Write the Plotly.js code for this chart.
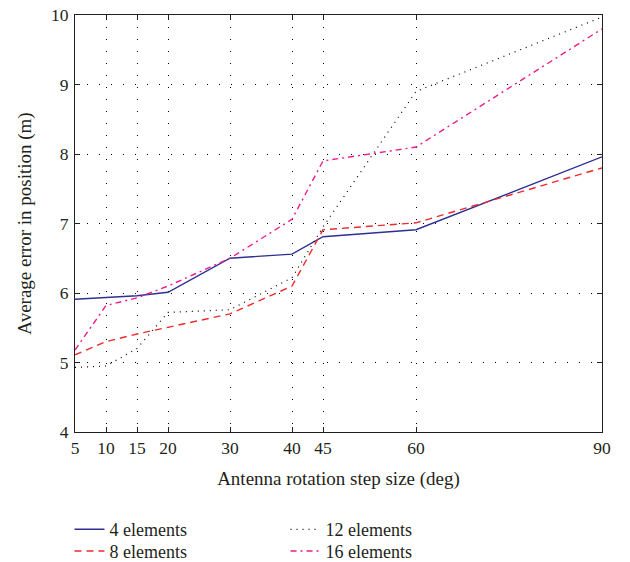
<!DOCTYPE html>
<html>
<head>
<meta charset="utf-8">
<script src="https://cdn.plot.ly/plotly-3.0.1.min.js"></script>
<style>html,body{margin:0;padding:0;background:#fff;}#chart{width:630px;height:562px;}</style>
</head>
<body>
<div id="chart"></div>
<script>
var stepSizes = [5, 10, 15, 20, 30, 40, 45, 60, 90];
var err4 = [5.91, 5.94, 5.96, 6.01, 6.5, 6.56, 6.81, 6.91, 7.96];
var err8 = [5.11, 5.3, 5.41, 5.51, 5.7, 6.1, 6.91, 7.01, 7.8];
var err12 = [4.93, 4.95, 5.2, 5.72, 5.76, 6.22, 6.95, 8.9, 9.97];
var err16 = [5.18, 5.82, 5.93, 6.1, 6.5, 7.06, 7.9, 8.1, 9.8];
var xTicks = [5, 10, 15, 20, 30, 40, 45, 60, 90];
var yTicks = [4, 5, 6, 7, 8, 9, 10];
var names = ['4 elements', '8 elements', '12 elements', '16 elements'];

var font = 'Liberation Serif, Times New Roman, serif';
var txt = '#231f20';

var traces = [
  {x: stepSizes, y: err4, name: names[0], mode: 'lines', legend: 'legend',
   line: {color: '#2e3192', width: 1.4}},
  {x: stepSizes, y: err8, name: names[1], mode: 'lines', legend: 'legend2',
   line: {color: '#ee2a2e', width: 1.4, dash: '7px,5px'}},
  {x: stepSizes, y: err12, name: names[2], mode: 'lines', legend: 'legend3',
   line: {color: '#000000', width: 1.2, dash: '1px,5px'}},
  {x: stepSizes, y: err16, name: names[3], mode: 'lines', legend: 'legend4',
   line: {color: '#ec1c8c', width: 1.4, dash: '6px,4px,2px,4px'}}
];

var axisCommon = {
  showline: true, mirror: 'ticks', linecolor: '#231f20', linewidth: 1,
  ticks: 'inside', ticklen: 5, tickcolor: '#231f20', tickwidth: 1,
  showgrid: true, gridcolor: '#000000', gridwidth: 1, griddash: '1px,11px',
  zeroline: false, tickfont: {family: font, size: 17.5, color: txt},
  automargin: false
};

function leg(x, y) {
  return {x: x, xanchor: 'left', y: y, yanchor: 'middle', orientation: 'v',
    bgcolor: 'rgba(0,0,0,0)', font: {family: font, size: 18, color: txt}};
}

var layout = {
  width: 630, height: 562,
  margin: {l: 75, r: 28, t: 15, b: 130, autoexpand: false},
  paper_bgcolor: '#ffffff', plot_bgcolor: '#ffffff',
  font: {family: font, size: 18, color: txt},
  xaxis: Object.assign({}, axisCommon, {
    range: [5, 90], tickmode: 'array', tickvals: xTicks, ticktext: xTicks.map(String),
    title: {text: 'Antenna rotation step size (deg)', font: {family: font, size: 19, color: txt}, standoff: 14}
  }),
  yaxis: Object.assign({}, axisCommon, {
    range: [4, 10], tickmode: 'array', tickvals: yTicks, ticktext: yTicks.map(String),
    ticklabelstandoff: 2,
    title: {text: 'Average error in position (m)', font: {family: font, size: 19, color: txt}, standoff: 14}
  }),
  legend: leg(-0.0105, -0.234),
  legend2: leg(-0.0105, -0.286),
  legend3: leg(0.3995, -0.234),
  legend4: leg(0.3995, -0.286),
  showlegend: true
};

Plotly.newPlot('chart', traces, layout, {displayModeBar: false, staticPlot: true});
</script>
</body>
</html>
